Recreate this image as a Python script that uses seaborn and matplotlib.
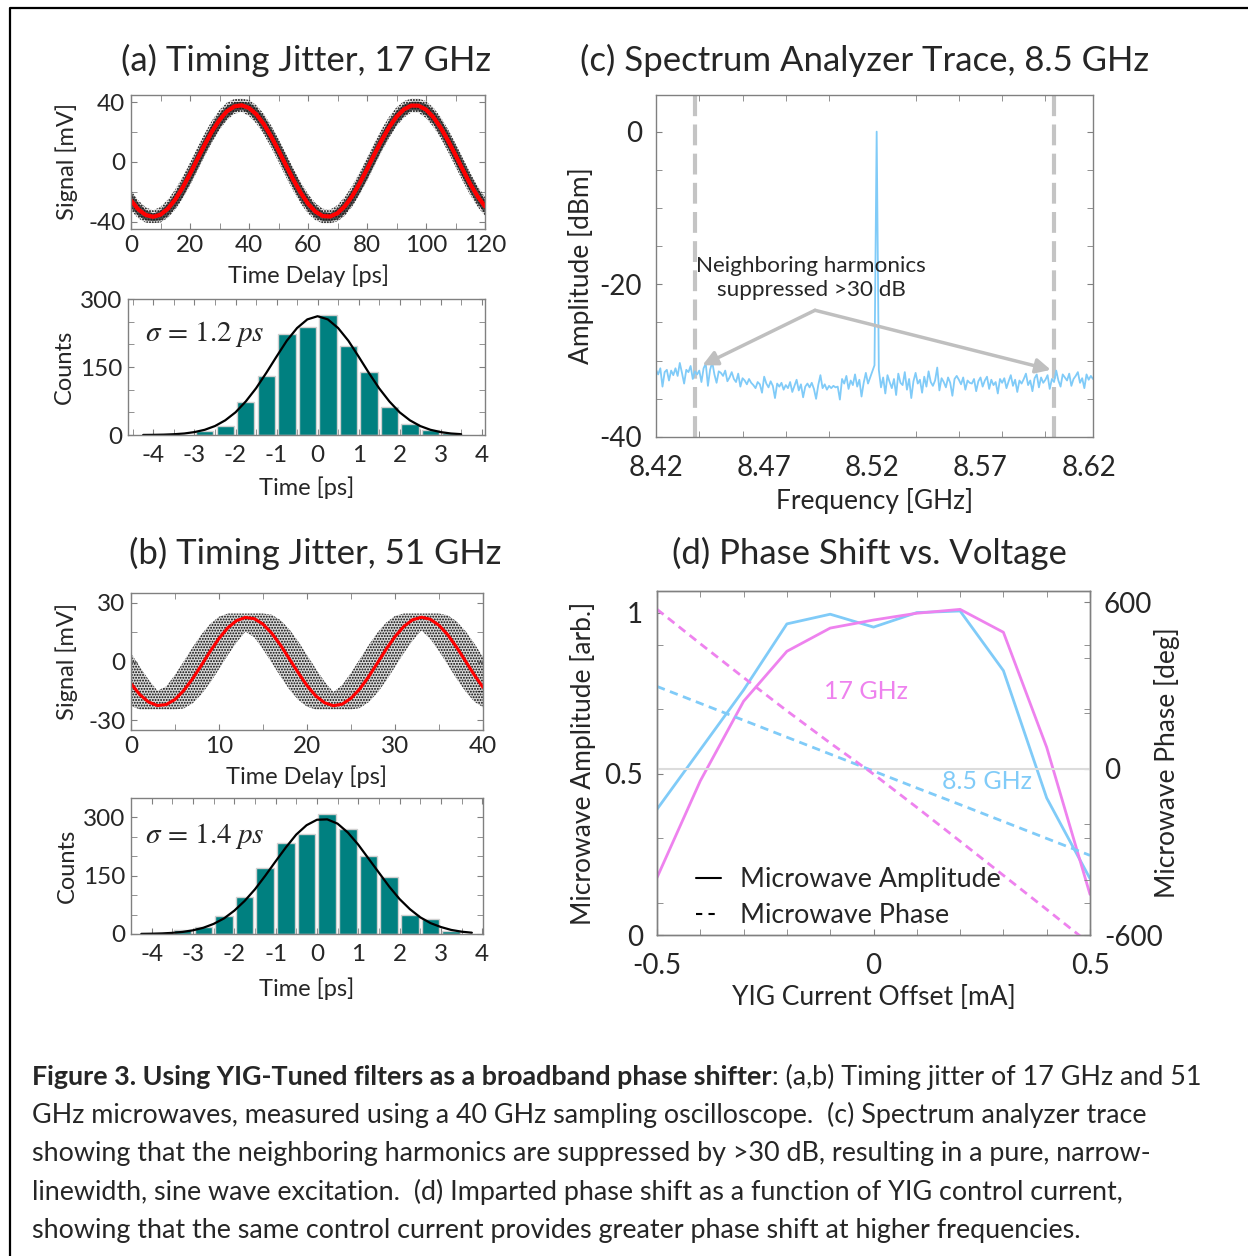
import numpy as np
import pandas as pd
import matplotlib
matplotlib.use('Agg')
import matplotlib.pyplot as plt
from matplotlib.lines import Line2D
from matplotlib.ticker import MultipleLocator, FixedLocator
import seaborn as sns

# (a) 17 GHz scope trace: fitted sine and vertical spread of the sample cloud
t_a = np.arange(0, 120.1, 2.5)
fit_a = [-25.8, -31.9, -35.6, -36.8, -35.4, -31.4, -25.2, -17.3, -8.0, 1.9,
         11.7, 20.7, 28.3, 34.0, 37.3, 38.1, 36.3, 32.0, 25.5, 17.2,
         7.8, -2.1, -11.8, -20.6, -28.0, -33.3, -36.3, -36.6, -34.4, -29.7,
         -22.9, -14.4, -4.9, 5.1, 14.7, 23.3, 30.4, 35.3, 37.9, 37.8,
         35.2, 30.1, 23.0, 14.3, 4.7, -5.2, -14.8, -23.1, -29.9]
spread_a = [5.0, 4.2, 3.4, 2.5, 3.5, 4.3, 5.0, 5.6, 5.9, 6.0,
            5.8, 5.5, 4.9, 4.1, 3.2, 2.7, 3.6, 4.4, 5.1, 5.6,
            5.9, 6.0, 5.8, 5.4, 4.8, 4.0, 3.1, 2.8, 3.7, 4.6,
            5.2, 5.7, 6.0, 6.0, 5.7, 5.3, 4.6, 3.8, 2.9, 3.0,
            3.9, 4.7, 5.3, 5.8, 6.0, 6.0, 5.7, 5.2, 4.5]

# (a) jitter histogram
centers_a = [-2.75, -2.25, -1.75, -1.25, -0.75, -0.25, 0.25, 0.75, 1.25, 1.75, 2.25, 2.75, 3.25]
counts_a = [9.5, 20, 72, 131, 222, 239, 265, 196, 140, 61, 23.5, 11, 4]
gx_a = np.arange(-4.25, 3.51, 0.25)
gauss_a = [0.15, 0.36, 0.8, 1.7, 3.3, 6.4, 11.5, 19.8, 32.4, 50, 74, 103, 137, 173, 208, 236,
           255, 262, 255, 236, 208, 173, 137, 103, 74, 50, 32.4, 19.8, 11.5, 6.4, 3.3, 1.7]

# (b) 51 GHz scope trace
t_b = np.arange(0, 40.1, 1.0)
fit_b = [-11.3, -16.9, -20.7, -22.5, -22.0, -19.4, -14.8, -8.8, -1.9, 5.2,
         11.8, 17.2, 20.9, 22.5, 21.9, 19.1, 14.4, 8.3, 1.3, -5.7,
         -12.3, -17.6, -21.1, -22.6, -21.8, -18.8, -14.0, -7.8, -0.8, 6.3,
         12.7, 17.9, 21.3, 22.6, 21.6, 18.5, 13.6, 7.3, 0.3, -6.8, -13.2]
upper_b = [4.2, -2.7, -9.3, -14.9, -12.8, -6.8, 0.1, 7.2, 13.8, 19.2,
           22.9, 24.5, 24.5, 24.5, 24.5, 24.5, 23.9, 21.1, 16.4, 10.3,
           3.3, -3.7, -10.3, -15.6, -12.0, -5.8, 1.2, 8.3, 14.7, 19.9,
           23.3, 24.5, 24.5, 24.5, 24.5, 24.5, 23.6, 20.5, 15.6, 9.3, 2.3]
lower_b = [-22.7, -24.5, -24.5, -24.5, -24.5, -24.5, -24.0, -21.4, -16.8, -10.8,
           -3.9, 3.2, 9.8, 15.2, 12.4, 6.3, -0.7, -7.7, -14.3, -19.6,
           -23.1, -24.5, -24.5, -24.5, -24.5, -24.5, -23.8, -20.8, -16.0, -9.8,
           -2.8, 4.3, 10.7, 15.9, 11.6, 5.3, -1.7, -8.8, -15.2, -20.5, -23.4]

# (b) jitter histogram
centers_b = [-3.25, -2.75, -2.25, -1.75, -1.25, -0.75, -0.25, 0.25, 0.75, 1.25, 1.75, 2.25, 2.75, 3.25]
counts_b = [9.4, 19, 46, 96, 170, 233, 257, 309, 269, 201, 147, 50, 39, 8.6]
gx_b = np.arange(-4.25, 3.76, 0.25)
gauss_b = [0.36, 0.75, 1.5, 2.9, 5.4, 9.5, 16, 26, 40, 60, 85, 115, 150, 187, 223, 256, 280,
           294, 295, 284, 261, 230, 194, 158, 122, 90, 64, 43, 28, 18, 10.5, 6, 3.3]

# (c) spectrum analyzer trace, 1 MHz steps
freq = np.round(np.arange(8.420, 8.6225, 0.001), 3)
trace = [-31.2, -31.8, -31.0, -33.4, -31.5, -31.2, -32.6, -31.3, -31.9, -31.0,
         -32.0, -30.3, -31.6, -33.0, -31.2, -31.5, -30.7, -32.4, -31.4, -31.8,
         -31.3, -32.8, -31.0, -30.4, -33.3, -31.2, -30.2, -31.8, -32.9, -31.4,
         -31.6, -32.0, -31.3, -32.7, -32.2, -31.5, -32.4, -32.8, -31.7, -33.4,
         -32.3, -32.6, -33.1, -32.4, -32.9, -33.2, -33.6, -32.8, -33.1, -34.2,
         -32.1, -33.0, -33.5, -32.7, -33.3, -34.9, -33.0, -33.4, -32.9, -33.8,
         -33.2, -33.6, -32.8, -34.1, -33.3, -32.5, -33.9, -33.1, -34.8, -33.4,
         -33.0, -33.5, -32.9, -33.7, -35.0, -33.2, -31.9, -33.6, -33.1, -33.8,
         -33.3, -33.6, -33.3, -33.5, -33.4, -35.1, -32.4, -33.0, -32.0, -33.7,
         -32.6, -33.2, -31.8, -33.4, -32.5, -34.7, -32.9, -31.6, -33.0, -32.2,
         -31.4, -30.6, 0.0, -31.2, -33.5, -32.2, -34.3, -31.9, -32.8, -33.6,
         -32.4, -34.5, -31.7, -32.9, -33.2, -31.5, -33.8, -32.4, -34.9, -32.7,
         -31.6, -33.0, -32.5, -34.2, -32.1, -33.4, -31.4, -32.8, -33.3, -32.6,
         -30.9, -33.9, -32.3, -32.8, -33.5, -32.2, -32.9, -34.6, -32.4, -32.0,
         -32.5, -33.1, -32.2, -33.8, -32.6, -32.9, -33.0, -32.4, -34.0, -32.7,
         -32.2, -33.4, -32.6, -32.1, -33.7, -32.5, -33.2, -32.8, -34.3, -32.4,
         -32.9, -32.3, -33.6, -32.7, -31.9, -33.3, -32.5, -34.1, -32.6, -33.0,
         -32.4, -31.7, -33.2, -32.6, -34.0, -32.3, -31.8, -33.5, -32.2, -32.9,
         -32.5, -31.9, -33.7, -32.4, -32.8, -31.3, -32.6, -33.4, -31.8, -32.2,
         -32.6, -31.7, -33.3, -32.4, -32.0, -31.5, -32.9, -32.3, -33.6, -31.8,
         -32.5, -32.0, -32.4]
harmonics = [8.438, 8.604]

# (d) amplitude and phase vs YIG current
current = [-0.5, -0.4, -0.3, -0.2, -0.1, 0.0, 0.1, 0.2, 0.3, 0.4, 0.5]
amp_85 = [0.39, 0.575, 0.76, 0.965, 0.995, 0.955, 1.0, 1.005, 0.82, 0.425, 0.175]
amp_17 = [0.178, 0.478, 0.725, 0.88, 0.952, 0.977, 0.998, 1.01, 0.939, 0.582, 0.126]
phase_85 = [296, 235, 174, 113, 52, -9, -70, -130, -191, -252, -313]
phase_17 = [574, 450, 328, 208, 92, -20, -140, -262, -385, -508, -632]

W, H = 1248, 1256
BLUE = '#80cbf8'
VIOLET = '#ee82ee'
TEAL = '#008080'
GRAY = '#808080'

sns.set_style('ticks')
plt.rcParams['font.family'] = ['Lato', 'DejaVu Sans']
plt.rcParams['mathtext.fontset'] = 'stix'
plt.rcParams['axes.unicode_minus'] = False
plt.rcParams['hatch.linewidth'] = 0.9

fig = plt.figure(figsize=(W / 100, H / 100), dpi=100)


def box(l, t, r, b):
    return fig.add_axes([l / W, 1 - b / H, (r - l) / W, (b - t) / H])


def style(ax, size):
    for s in ax.spines.values():
        s.set_color(GRAY)
        s.set_linewidth(1)
    ax.tick_params(which='both', direction='in', top=True, right=True, color=GRAY,
                   length=4, labelsize=size, pad=4)


def hist(ax, centers, counts):
    df = pd.DataFrame({'t': np.asarray(centers, float), 'n': np.asarray(counts, float)})
    edges = [c - 0.25 for c in centers] + [centers[-1] + 0.25]
    sns.histplot(data=df, x='t', weights='n', bins=edges, shrink=0.85,
                 color=TEAL, alpha=1, edgecolor='#d0d0d0', linewidth=1, ax=ax)


SMALL = 17.5   # tick labels, left panels
LAB = 17       # axis labels, left panels
BIG = 20       # tick labels, right panels
BLAB = 19      # axis labels, right panels

# ---- (a) scope trace
ax = box(131, 95, 485, 229)
lo = np.array(fit_a) - np.array(spread_a)
hi = np.array(fit_a) + np.array(spread_a)
ax.fill_between(t_a, lo - 1.8, hi + 1.8, facecolor=(0, 0, 0, 0.10), edgecolor='k', hatch='......', linewidth=0)
ax.fill_between(t_a, lo, hi, facecolor=(0.1, 0.1, 0.1, 0.72), linewidth=0)
sns.lineplot(x=t_a, y=fit_a, color='red', lw=3, ax=ax, estimator=None, sort=False)
ax.set_xlim(0, 120)
ax.set_ylim(-45, 45)
ax.xaxis.set_major_locator(MultipleLocator(20))
ax.xaxis.set_minor_locator(MultipleLocator(10))
ax.yaxis.set_major_locator(MultipleLocator(40))
ax.yaxis.set_minor_locator(MultipleLocator(20))
ax.set_xlabel('Time Delay [ps]', fontsize=LAB, labelpad=6)
ax.set_ylabel('Signal [mV]', fontsize=LAB, labelpad=7)
style(ax, SMALL)

# ---- (a) histogram
ax = box(128, 299, 485, 435)
hist(ax, centers_a, counts_a)
sns.lineplot(x=gx_a, y=gauss_a, color='k', lw=1.6, ax=ax, estimator=None, sort=False)
ax.text(-4.2, 222, r'$\sigma\,=\,1.2\;ps$', fontsize=21, va='center')
ax.set_xlim(-4.62, 4.08)
ax.set_ylim(0, 300)
ax.xaxis.set_major_locator(MultipleLocator(1))
ax.xaxis.set_minor_locator(MultipleLocator(0.5))
ax.yaxis.set_major_locator(MultipleLocator(150))
ax.yaxis.set_minor_locator(MultipleLocator(50))
ax.set_xlabel('Time [ps]', fontsize=LAB, labelpad=8)
ax.set_ylabel('Counts', fontsize=LAB, labelpad=4)
style(ax, SMALL)
ax.tick_params(axis='x', pad=7)

# ---- (b) scope trace
ax = box(131, 593, 483, 730)
ax.fill_between(t_b, lower_b, upper_b, facecolor=(0, 0, 0, 0.15), edgecolor='k', hatch='......', linewidth=0)
sns.lineplot(x=t_b, y=fit_b, color='red', lw=2.2, ax=ax, estimator=None, sort=False)
ax.set_xlim(0, 40)
ax.set_ylim(-35, 35)
ax.xaxis.set_major_locator(MultipleLocator(10))
ax.xaxis.set_minor_locator(MultipleLocator(5))
ax.yaxis.set_major_locator(MultipleLocator(30))
ax.yaxis.set_minor_locator(MultipleLocator(15))
ax.set_xlabel('Time Delay [ps]', fontsize=LAB, labelpad=6)
ax.set_ylabel('Signal [mV]', fontsize=LAB, labelpad=7)
style(ax, SMALL)

# ---- (b) histogram
ax = box(131, 798, 483, 934)
hist(ax, centers_b, counts_b)
sns.lineplot(x=gx_b, y=gauss_b, color='k', lw=1.6, ax=ax, estimator=None, sort=False)
ax.text(-4.16, 252, r'$\sigma\,=\,1.4\;ps$', fontsize=21, va='center')
ax.set_xlim(-4.5, 4.02)
ax.set_ylim(0, 350)
ax.xaxis.set_major_locator(MultipleLocator(1))
ax.xaxis.set_minor_locator(MultipleLocator(0.5))
ax.yaxis.set_major_locator(MultipleLocator(150))
ax.yaxis.set_minor_locator(MultipleLocator(50))
ax.set_xlabel('Time [ps]', fontsize=LAB, labelpad=9)
ax.set_ylabel('Counts', fontsize=LAB, labelpad=4)
style(ax, SMALL)
ax.tick_params(axis='x', pad=7)

# ---- (c) spectrum
ax = box(656, 95, 1093, 437)
for f in harmonics:
    ax.axvline(f, color='#c4c4c4', lw=3, ls=(0, (5, 2)))
sns.lineplot(x=freq, y=trace, color=BLUE, lw=1.3, ax=ax, estimator=None, sort=False)
ax.set_xlim(8.42, 8.622)
ax.set_ylim(-40, 4.8)
ax.xaxis.set_major_locator(FixedLocator([8.42, 8.47, 8.52, 8.57, 8.62]))
ax.xaxis.set_major_formatter(matplotlib.ticker.FormatStrFormatter('%.2f'))
ax.xaxis.set_minor_locator(MultipleLocator(0.02))
ax.yaxis.set_major_locator(MultipleLocator(20))
ax.yaxis.set_minor_locator(MultipleLocator(5))
style(ax, BIG)
ax.tick_params(axis='x', which='major', length=0, pad=13)
ax.tick_params(axis='y', pad=10)
ax.set_xlabel('Frequency [GHz]', fontsize=BLAB, labelpad=5)
ax.set_ylabel('Amplitude [dBm]', fontsize=BLAB, labelpad=4)
ax.text(8.4917, -19.2, 'Neighboring harmonics\nsuppressed >30 dB', fontsize=16.2,
        ha='center', va='center', linespacing=1.25)
for tip in [(8.4415, -30.6), (8.6025, -31.2)]:
    ax.annotate('', xy=tip, xytext=(8.4935, -23.4),
                arrowprops=dict(arrowstyle='-|>', color='#bfbfbf', lw=2.5,
                                mutation_scale=22, shrinkA=0, shrinkB=0))

# ---- (d) phase shift
ax = box(657, 591, 1090, 935)
ax2 = ax.twinx()
ax2.axhline(0, color='#dcdcdc', lw=1.5)
sns.lineplot(x=current, y=amp_85, color=BLUE, lw=2, ax=ax, estimator=None, sort=False)
sns.lineplot(x=current, y=amp_17, color=VIOLET, lw=2, ax=ax, estimator=None, sort=False)
sns.lineplot(x=current, y=phase_85, color=BLUE, lw=2, ls=(0, (3, 2)), ax=ax2, estimator=None, sort=False)
sns.lineplot(x=current, y=phase_17, color=VIOLET, lw=2, ls=(0, (3, 2)), ax=ax2, estimator=None, sort=False)
ax.set_xlim(-0.5, 0.5)
ax.set_ylim(0, 1.067)
ax2.set_ylim(-600, 640)
ax.xaxis.set_major_locator(MultipleLocator(0.5))
ax.xaxis.set_minor_locator(MultipleLocator(0.1))
ax.yaxis.set_major_locator(FixedLocator([0, 0.5, 1]))
ax.yaxis.set_major_formatter(matplotlib.ticker.FuncFormatter(lambda v, p: f'{v:g}'))
ax.xaxis.set_major_formatter(matplotlib.ticker.FuncFormatter(lambda v, p: f'{v:g}'))
ax.yaxis.set_minor_locator(FixedLocator([0.1, 0.3, 0.7, 0.9]))
ax2.yaxis.set_major_locator(FixedLocator([-600, 0, 600]))
ax2.yaxis.set_minor_locator(MultipleLocator(200))
style(ax, BIG)
style(ax2, BIG)
ax.tick_params(axis='y', right=False, pad=10)
ax.tick_params(axis='x', pad=13)
ax2.tick_params(axis='y', left=False, pad=10)
ax.set_xlabel('YIG Current Offset [mA]', fontsize=BLAB, labelpad=4)
ax.set_ylabel('Microwave Amplitude [arb.]', fontsize=BLAB, labelpad=6)
ax2.set_ylabel('Microwave Phase [deg]', fontsize=BLAB, labelpad=-6)
ax2.text(-0.017, 276, '17 GHz', color=VIOLET, fontsize=18, ha='center', va='center')
ax2.text(0.262, -47, '8.5 GHz', color=BLUE, fontsize=18, ha='center', va='center')
handles = [Line2D([], [], color='k', lw=1.5), Line2D([], [], color='k', lw=1.5, ls=(0, (3, 3)))]
ax.legend(handles, ['Microwave Amplitude', 'Microwave Phase'], loc='lower left',
          bbox_to_anchor=(0.035, -0.05), frameon=False, fontsize=19.4, handlelength=0.9,
          handletextpad=0.7, labelspacing=0.4)

# ---- panel titles
titles = [('(a) Timing Jitter, 17 GHz', 306, 60), ('(c) Spectrum Analyzer Trace, 8.5 GHz', 865, 60),
          ('(b) Timing Jitter, 51 GHz', 315, 553), ('(d) Phase Shift vs. Voltage', 869, 553)]
for txt, x, y in titles:
    fig.text(x / W, 1 - y / H, txt, fontsize=25, ha='center', va='center')

# ---- caption
cap = 19.4
t1 = fig.text(32 / W, 1 - 1077 / H, 'Figure 3. Using YIG-Tuned filters as a broadband phase shifter',
              fontsize=cap, fontweight='bold', va='center')
fig.add_artist(matplotlib.text.Annotation(': (a,b) Timing jitter of 17 GHz and 51', xy=(1, 0.5),
                                          xycoords=t1, fontsize=cap, va='center', ha='left'))
lines = ['GHz microwaves, measured using a 40 GHz sampling oscilloscope.  (c) Spectrum analyzer trace',
         'showing that the neighboring harmonics are suppressed by >30 dB, resulting in a pure, narrow-',
         'linewidth, sine wave excitation.  (d) Imparted phase shift as a function of YIG control current,',
         'showing that the same control current provides greater phase shift at higher frequencies.']
for i, line in enumerate(lines):
    fig.text(32 / W, 1 - (1115 + 38.5 * i) / H, line, fontsize=cap, va='center')

# outer frame
fig.add_artist(Line2D([10 / W, 10 / W, 1.0], [0, 1 - 8 / H, 1 - 8 / H], color='k', lw=1.6,
                      transform=fig.transFigure))

fig.savefig('out.png', dpi=100)
